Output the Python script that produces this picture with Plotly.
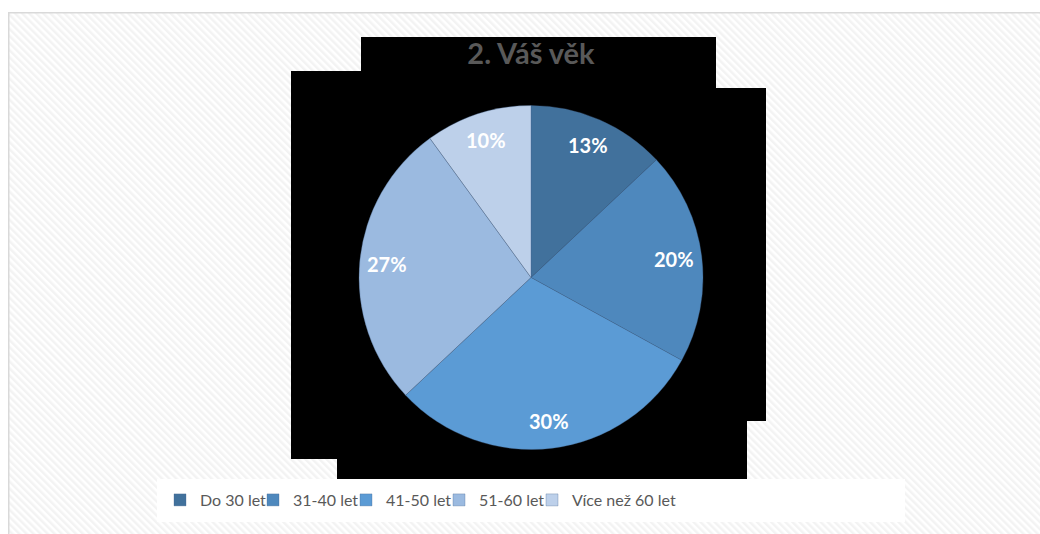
import base64
import numpy as np
import plotly.graph_objects as go

# ---- data ----
categories = ["Do 30 let", "31-40 let", "41-50 let", "51-60 let", "Více než 60 let"]
values = [13, 20, 30, 27, 10]
colors = ["#41719c", "#4e88bd", "#5b9bd5", "#9bbae0", "#bdd0ea"]
title_text = "2. Váš věk"

W, H = 1040, 534

def px(x):
    return x / W

def py(y):
    return 1 - y / H

# hatched background as an SVG image
svg = f'''<svg xmlns="http://www.w3.org/2000/svg" width="{W}" height="{H}" viewBox="0 0 {W} {H}">
<defs><pattern id="p" width="5" height="5" patternUnits="userSpaceOnUse" patternTransform="rotate(-45)">
<rect width="5" height="5" fill="#ffffff"/><rect width="2.5" height="5" fill="#f3f3f3"/></pattern></defs>
<rect x="0" y="0" width="{W}" height="{H}" fill="#ffffff"/>
<rect x="8.75" y="12.75" width="{W + 20}" height="{H + 20}" fill="url(#p)" stroke="#d9d9d9" stroke-width="1.5"/>
</svg>'''
src = "data:image/svg+xml;base64," + base64.b64encode(svg.encode()).decode()

# pie geometry (reference pixels)
cx, cy, r = 531, 277.5, 172

fig = go.Figure()
fig.add_trace(go.Pie(
    labels=categories,
    values=values,
    sort=False,
    direction="clockwise",
    rotation=0,
    marker=dict(colors=colors, line=dict(color="rgba(70,100,140,0.55)", width=0.6)),
    textinfo="none",
    hoverinfo="label+percent",
    domain=dict(x=[px(cx - r), px(cx + r)], y=[py(cy + r), py(cy - r)]),
))
# empty spacer entry so the last legend label is not clipped
fig.add_trace(go.Scatter(x=[None], y=[None], mode="markers", name=" ",
                         marker=dict(color="rgba(0,0,0,0)", size=1),
                         showlegend=True, hoverinfo="skip"))

# data labels computed from values
vals = np.array(values, dtype=float)
total = vals.sum()
mids = (np.cumsum(vals) - vals / 2) / total * 2 * np.pi
rl = 0.84 * r
annotations = []
for v, a in zip(vals, mids):
    x = cx + rl * np.sin(a)
    y = cy - rl * np.cos(a)
    annotations.append(dict(
        x=px(x), y=py(y), xref="paper", yref="paper", showarrow=False,
        text=f"<b>{v / total * 100:.0f}%</b>",
        font=dict(family="Lato, Open Sans, sans-serif", size=20, color="#ffffff"),
        xanchor="center", yanchor="middle",
    ))

# black background blocks
blocks = [
    (361, 37, 716, 88),
    (291, 71, 716, 459),
    (716, 88, 766, 421),
    (337, 421, 747, 479),
]
shapes = []
for x0, y0, x1, y1 in blocks:
    shapes.append(dict(type="rect", xref="paper", yref="paper",
                       x0=px(x0), x1=px(x1), y0=py(y1), y1=py(y0),
                       fillcolor="#000000", line=dict(width=0), layer="below"))
# legend white box
shapes.append(dict(type="rect", xref="paper", yref="paper",
                   x0=px(157), x1=px(905), y0=py(522), y1=py(479),
                   fillcolor="#ffffff", line=dict(width=0), layer="below"))

fig.update_layout(
    width=W, height=H,
    margin=dict(l=0, r=0, t=0, b=0),
    paper_bgcolor="#ffffff",
    plot_bgcolor="rgba(0,0,0,0)",
    xaxis=dict(visible=False),
    yaxis=dict(visible=False),
    images=[dict(source=src, xref="paper", yref="paper", x=0, y=1,
                 sizex=1, sizey=1, xanchor="left", yanchor="top",
                 sizing="stretch", layer="below")],
    shapes=shapes,
    annotations=annotations,
    title=dict(text=f"<b>{title_text}</b>", x=px(531), xanchor="center",
               y=py(54), yanchor="middle",
               font=dict(family="Lato, Open Sans, sans-serif", size=29, color="#595959")),
    showlegend=True,
    legend=dict(orientation="h", x=px(160), xanchor="left", y=py(500), yanchor="middle",
                bgcolor="rgba(255,255,255,0)", borderwidth=0,
                font=dict(family="Lato, Open Sans, sans-serif", size=16, color="#595959"),
                itemwidth=30, entrywidth=48, entrywidthmode="pixels", traceorder="normal"),
)

fig.write_html("out.html", config={"displayModeBar": False},
               post_script="document.body.style.margin='0';document.body.style.overflow='hidden';document.documentElement.style.overflow='hidden';")
